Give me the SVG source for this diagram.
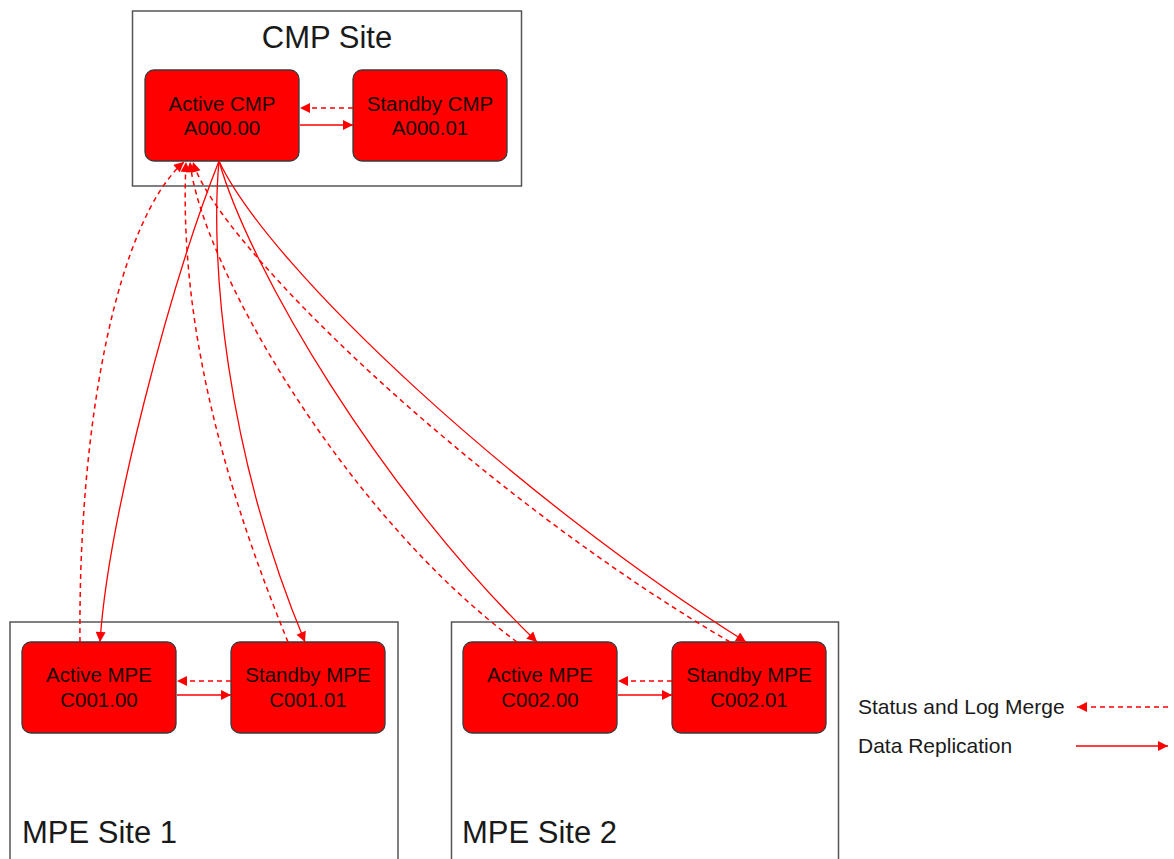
<svg xmlns="http://www.w3.org/2000/svg" width="1174" height="859" viewBox="0 0 1174 859">
<style>
.site{fill:#fff;stroke:#555;stroke-width:1.5}
.title{font-family:"Liberation Sans",Arial,sans-serif;font-size:31px;fill:#1a1a1a}
.node{fill:#ff0000;stroke:#3a3a3a;stroke-width:1.3}
.ntext{font-family:"Liberation Sans",Arial,sans-serif;font-size:20.5px;fill:#1a0000;text-anchor:middle}
.ltext{font-family:"Liberation Sans",Arial,sans-serif;font-size:21px;fill:#1a1a1a}
.rep{fill:none;stroke:#ff0000;stroke-width:1.3;marker-end:url(#ah)}
.sts{fill:none;stroke:#ff0000;stroke-width:1.5;stroke-dasharray:5 4;marker-end:url(#ah)}
</style>
<defs>
<marker id="ah" viewBox="0 0 10 10" refX="10" refY="5" markerUnits="userSpaceOnUse" markerWidth="11" markerHeight="10" orient="auto">
<path d="M0,0 L10,5 L0,10 z" fill="#ff0000"/>
</marker>
</defs>
<rect width="1174" height="859" fill="#fff"/>
<g id="cmp-site">
<rect class="site" x="132.5" y="11" width="389" height="175"/>
<text class="title" x="327" y="48" text-anchor="middle">CMP Site</text>
</g>
<g id="mpe-site-1">
<rect class="site" x="10" y="622" width="388" height="250"/>
<text class="title" x="22" y="843">MPE Site 1</text>
</g>
<g id="mpe-site-2">
<rect class="site" x="451.5" y="622" width="387" height="250"/>
<text class="title" x="462" y="843">MPE Site 2</text>
</g>
<g id="active-cmp">
<rect class="node" x="145" y="70" width="154" height="91" rx="9"/>
<text class="ntext" x="222" y="111">Active CMP</text>
<text class="ntext" x="222" y="135">A000.00</text>
</g>
<g id="standby-cmp">
<rect class="node" x="353" y="70" width="154" height="91" rx="9"/>
<text class="ntext" x="430" y="111">Standby CMP</text>
<text class="ntext" x="430" y="135">A000.01</text>
</g>
<g id="active-mpe-1">
<rect class="node" x="22" y="642" width="154" height="91" rx="9"/>
<text class="ntext" x="99" y="682">Active MPE</text>
<text class="ntext" x="99" y="707">C001.00</text>
</g>
<g id="standby-mpe-1">
<rect class="node" x="231" y="642" width="154" height="91" rx="9"/>
<text class="ntext" x="308" y="682">Standby MPE</text>
<text class="ntext" x="308" y="707">C001.01</text>
</g>
<g id="active-mpe-2">
<rect class="node" x="463" y="642" width="154" height="91" rx="9"/>
<text class="ntext" x="540" y="682">Active MPE</text>
<text class="ntext" x="540" y="707">C002.00</text>
</g>
<g id="standby-mpe-2">
<rect class="node" x="672" y="642" width="154" height="91" rx="9"/>
<text class="ntext" x="749" y="682">Standby MPE</text>
<text class="ntext" x="749" y="707">C002.01</text>
</g>
<g id="connectors">
<path class="sts" d="M353,108 L300,108"/>
<path class="rep" d="M300,125 L353,125"/>
<path class="sts" d="M231,681 L177,681"/>
<path class="rep" d="M177,695 L231,695"/>
<path class="sts" d="M672,681 L618,681"/>
<path class="rep" d="M618,695 L672,695"/>
<path class="rep" d="M219,161 C170,285 108,520 100,642"/>
<path class="rep" d="M219,161 C210,260 225,450 305,642"/>
<path class="rep" d="M219,161 C250,270 380,490 537,642"/>
<path class="rep" d="M219,161 C270,270 520,500 746,642"/>
<path class="sts" d="M80,642 C78,420 118,220 184,162"/>
<path class="sts" d="M288,642 C230,500 178,330 186,162"/>
<path class="sts" d="M517,642 C340,510 200,260 190,162"/>
<path class="sts" d="M730,642 C470,490 215,240 193,162"/>
</g>
<g id="legend">
<text class="ltext" x="858" y="714">Status and Log Merge</text>
<path class="sts" d="M1168,707 L1077,707"/>
<text class="ltext" x="858" y="753">Data Replication</text>
<path class="rep" d="M1076,746 L1168,746"/>
</g>
</svg>
